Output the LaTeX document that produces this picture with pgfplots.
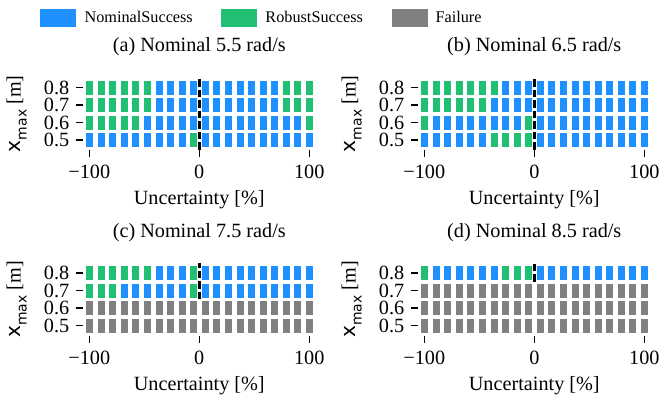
\documentclass[border=0pt]{standalone}
\usepackage{fontspec}
\setmainfont{Liberation Serif}
\newfontfamily\djv{DejaVu Sans}
\usepackage{pgfplots}
\pgfplotsset{compat=1.18}
\definecolor{nomblue}{RGB}{30,144,255}
\definecolor{robgreen}{RGB}{33,191,115}
\definecolor{failgray}{RGB}{128,128,128}
\newcommand{\lblfont}{\fontsize{20.3}{24}\selectfont}
\newcommand{\legfont}{\fontsize{16.3}{19.5}\selectfont}
\pgfdeclareplotmark{cell}{%
  \pgfpathrectangle{\pgfpoint{-3bp}{-6.5bp}}{\pgfpoint{6bp}{13bp}}%
  \pgfusepathqfillstroke}
\pgfplotsset{
  cellax/.style={
    scale only axis, width=233.2bp, height=72.5bp,
    xmin=-106, xmax=106, ymin=0.443, ymax=0.857,
    clip=false,
    axis line style={draw=none},
    /pgf/number format/assume math mode=true,
    xtick={-100,0,100}, xticklabels={−100,0,100},
    ytick={0.5,0.6,0.7,0.8}, yticklabels={0.5,0.6,0.7,0.8},
    tick align=outside, major tick length=7bp,
    xtick pos=left, ytick pos=left,
    tick style={black, line width=1.6bp},
    ticklabel style={font=\lblfont},
    xticklabel style={yshift=-5bp},
    yticklabel style={xshift=-3bp},
    title style={font=\lblfont, at={(0.5,1)}, anchor=base, yshift=20bp},
    xlabel={Uncertainty [\%]},
    xlabel style={font=\lblfont, at={(0.5,0)}, anchor=base, yshift=-55bp},
    ylabel={{\djv x\raisebox{-0.3em}{\fontsize{14}{14}\selectfont max}} [m]},
    ylabel style={font=\lblfont, at={(ticklabel cs:0.5,20bp)}, anchor=base},
  },
  cells/.style={
    scatter, only marks, forget plot,
    scatter src=explicit symbolic,
    line width=0.5bp,
    scatter/classes={
      N={mark=cell, nomblue},
      R={mark=cell, robgreen},
      F={mark=cell, failgray}
    }
  },
  zeroline/.style={black, line width=2.7bp, dash pattern=on 7.5bp off 3bp, forget plot},
}
\begin{document}
\begin{tikzpicture}
\useasboundingbox (0,0) rectangle (660bp,403bp);
% ---------------- (a)
\begin{axis}[cellax, at={(82.7bp,253bp)}, anchor=south west,
  title={(a) Nominal 5.5 rad/s},
  legend columns=3,
  legend style={at={(0.769,1.828)}, anchor=center, draw=none, fill=none, font=\legfont,
    /tikz/every odd column/.append style={column sep=6.6bp},
    /tikz/every even column/.append style={column sep=26.6bp}},
  legend cell align=left]
\addlegendimage{legend image code/.code={\fill[nomblue] (0bp,-8.5bp) rectangle (35bp,8.5bp);}}
\addlegendentry{NominalSuccess}
\addlegendimage{legend image code/.code={\fill[robgreen] (0bp,-8.5bp) rectangle (35bp,8.5bp);}}
\addlegendentry{RobustSuccess}
\addlegendimage{legend image code/.code={\fill[failgray] (0bp,-8.5bp) rectangle (35bp,8.5bp);}}
\addlegendentry{Failure}
\addplot[cells] coordinates {
(-100,0.8)[R] (-89.474,0.8)[R] (-78.947,0.8)[R] (-68.421,0.8)[R] (-57.895,0.8)[R] (-47.368,0.8)[R] (-36.842,0.8)[N] (-26.316,0.8)[N] (-15.789,0.8)[N] (-5.263,0.8)[N]
(5.263,0.8)[N] (15.789,0.8)[N] (26.316,0.8)[N] (36.842,0.8)[N] (47.368,0.8)[N] (57.895,0.8)[N] (68.421,0.8)[N] (78.947,0.8)[R] (89.474,0.8)[R] (100,0.8)[R]
(-100,0.7)[R] (-89.474,0.7)[R] (-78.947,0.7)[R] (-68.421,0.7)[R] (-57.895,0.7)[R] (-47.368,0.7)[R] (-36.842,0.7)[N] (-26.316,0.7)[N] (-15.789,0.7)[N] (-5.263,0.7)[N]
(5.263,0.7)[N] (15.789,0.7)[N] (26.316,0.7)[N] (36.842,0.7)[N] (47.368,0.7)[N] (57.895,0.7)[N] (68.421,0.7)[N] (78.947,0.7)[R] (89.474,0.7)[R] (100,0.7)[R]
(-100,0.6)[R] (-89.474,0.6)[R] (-78.947,0.6)[R] (-68.421,0.6)[R] (-57.895,0.6)[R] (-47.368,0.6)[N] (-36.842,0.6)[N] (-26.316,0.6)[N] (-15.789,0.6)[N] (-5.263,0.6)[N]
(5.263,0.6)[N] (15.789,0.6)[N] (26.316,0.6)[N] (36.842,0.6)[N] (47.368,0.6)[N] (57.895,0.6)[N] (68.421,0.6)[N] (78.947,0.6)[N] (89.474,0.6)[N] (100,0.6)[R]
(-100,0.5)[N] (-89.474,0.5)[N] (-78.947,0.5)[N] (-68.421,0.5)[N] (-57.895,0.5)[N] (-47.368,0.5)[N] (-36.842,0.5)[N] (-26.316,0.5)[N] (-15.789,0.5)[N] (-5.263,0.5)[R]
(5.263,0.5)[N] (15.789,0.5)[N] (26.316,0.5)[N] (36.842,0.5)[N] (47.368,0.5)[N] (57.895,0.5)[N] (68.421,0.5)[N] (78.947,0.5)[N] (89.474,0.5)[N] (100,0.5)[N]
};
\addplot[zeroline] coordinates {(0,0.445) (0,0.857)};
\end{axis}
% ---------------- (b)
\begin{axis}[cellax, at={(417.7bp,253bp)}, anchor=south west,
  title={(b) Nominal 6.5 rad/s}]
\addplot[cells] coordinates {
(-100,0.8)[R] (-89.474,0.8)[R] (-78.947,0.8)[R] (-68.421,0.8)[R] (-57.895,0.8)[R] (-47.368,0.8)[R] (-36.842,0.8)[R] (-26.316,0.8)[N] (-15.789,0.8)[N] (-5.263,0.8)[N]
(5.263,0.8)[N] (15.789,0.8)[N] (26.316,0.8)[N] (36.842,0.8)[N] (47.368,0.8)[N] (57.895,0.8)[N] (68.421,0.8)[N] (78.947,0.8)[N] (89.474,0.8)[N] (100,0.8)[N]
(-100,0.7)[R] (-89.474,0.7)[R] (-78.947,0.7)[R] (-68.421,0.7)[R] (-57.895,0.7)[R] (-47.368,0.7)[R] (-36.842,0.7)[N] (-26.316,0.7)[N] (-15.789,0.7)[N] (-5.263,0.7)[N]
(5.263,0.7)[N] (15.789,0.7)[N] (26.316,0.7)[N] (36.842,0.7)[N] (47.368,0.7)[N] (57.895,0.7)[N] (68.421,0.7)[N] (78.947,0.7)[N] (89.474,0.7)[N] (100,0.7)[N]
(-100,0.6)[R] (-89.474,0.6)[N] (-78.947,0.6)[N] (-68.421,0.6)[N] (-57.895,0.6)[N] (-47.368,0.6)[N] (-36.842,0.6)[N] (-26.316,0.6)[N] (-15.789,0.6)[N] (-5.263,0.6)[R]
(5.263,0.6)[N] (15.789,0.6)[N] (26.316,0.6)[N] (36.842,0.6)[N] (47.368,0.6)[N] (57.895,0.6)[N] (68.421,0.6)[N] (78.947,0.6)[N] (89.474,0.6)[N] (100,0.6)[N]
(-100,0.5)[N] (-89.474,0.5)[N] (-78.947,0.5)[N] (-68.421,0.5)[N] (-57.895,0.5)[N] (-47.368,0.5)[N] (-36.842,0.5)[R] (-26.316,0.5)[R] (-15.789,0.5)[R] (-5.263,0.5)[R]
(5.263,0.5)[N] (15.789,0.5)[N] (26.316,0.5)[N] (36.842,0.5)[N] (47.368,0.5)[N] (57.895,0.5)[N] (68.421,0.5)[N] (78.947,0.5)[N] (89.474,0.5)[N] (100,0.5)[N]
};
\addplot[zeroline] coordinates {(0,0.445) (0,0.857)};
\end{axis}
% ---------------- (c)
\begin{axis}[cellax, at={(82.7bp,67.5bp)}, anchor=south west,
  title={(c) Nominal 7.5 rad/s}]
\addplot[cells] coordinates {
(-100,0.8)[R] (-89.474,0.8)[R] (-78.947,0.8)[R] (-68.421,0.8)[R] (-57.895,0.8)[R] (-47.368,0.8)[R] (-36.842,0.8)[N] (-26.316,0.8)[N] (-15.789,0.8)[N] (-5.263,0.8)[R]
(5.263,0.8)[N] (15.789,0.8)[N] (26.316,0.8)[N] (36.842,0.8)[N] (47.368,0.8)[N] (57.895,0.8)[N] (68.421,0.8)[N] (78.947,0.8)[N] (89.474,0.8)[N] (100,0.8)[N]
(-100,0.7)[R] (-89.474,0.7)[R] (-78.947,0.7)[R] (-68.421,0.7)[N] (-57.895,0.7)[N] (-47.368,0.7)[N] (-36.842,0.7)[N] (-26.316,0.7)[N] (-15.789,0.7)[N] (-5.263,0.7)[R]
(5.263,0.7)[N] (15.789,0.7)[N] (26.316,0.7)[N] (36.842,0.7)[N] (47.368,0.7)[N] (57.895,0.7)[N] (68.421,0.7)[N] (78.947,0.7)[N] (89.474,0.7)[N] (100,0.7)[N]
(-100,0.6)[F] (-89.474,0.6)[F] (-78.947,0.6)[F] (-68.421,0.6)[F] (-57.895,0.6)[F] (-47.368,0.6)[F] (-36.842,0.6)[F] (-26.316,0.6)[F] (-15.789,0.6)[F] (-5.263,0.6)[F]
(5.263,0.6)[F] (15.789,0.6)[F] (26.316,0.6)[F] (36.842,0.6)[F] (47.368,0.6)[F] (57.895,0.6)[F] (68.421,0.6)[F] (78.947,0.6)[F] (89.474,0.6)[F] (100,0.6)[F]
(-100,0.5)[F] (-89.474,0.5)[F] (-78.947,0.5)[F] (-68.421,0.5)[F] (-57.895,0.5)[F] (-47.368,0.5)[F] (-36.842,0.5)[F] (-26.316,0.5)[F] (-15.789,0.5)[F] (-5.263,0.5)[F]
(5.263,0.5)[F] (15.789,0.5)[F] (26.316,0.5)[F] (36.842,0.5)[F] (47.368,0.5)[F] (57.895,0.5)[F] (68.421,0.5)[F] (78.947,0.5)[F] (89.474,0.5)[F] (100,0.5)[F]
};
\addplot[zeroline] coordinates {(0,0.65) (0,0.857)};
\end{axis}
% ---------------- (d)
\begin{axis}[cellax, at={(417.7bp,67.5bp)}, anchor=south west,
  title={(d) Nominal 8.5 rad/s}]
\addplot[cells] coordinates {
(-100,0.8)[R] (-89.474,0.8)[N] (-78.947,0.8)[N] (-68.421,0.8)[N] (-57.895,0.8)[N] (-47.368,0.8)[N] (-36.842,0.8)[N] (-26.316,0.8)[R] (-15.789,0.8)[R] (-5.263,0.8)[R]
(5.263,0.8)[N] (15.789,0.8)[N] (26.316,0.8)[N] (36.842,0.8)[N] (47.368,0.8)[N] (57.895,0.8)[N] (68.421,0.8)[N] (78.947,0.8)[N] (89.474,0.8)[N] (100,0.8)[N]
(-100,0.7)[F] (-89.474,0.7)[F] (-78.947,0.7)[F] (-68.421,0.7)[F] (-57.895,0.7)[F] (-47.368,0.7)[F] (-36.842,0.7)[F] (-26.316,0.7)[F] (-15.789,0.7)[F] (-5.263,0.7)[F]
(5.263,0.7)[F] (15.789,0.7)[F] (26.316,0.7)[F] (36.842,0.7)[F] (47.368,0.7)[F] (57.895,0.7)[F] (68.421,0.7)[F] (78.947,0.7)[F] (89.474,0.7)[F] (100,0.7)[F]
(-100,0.6)[F] (-89.474,0.6)[F] (-78.947,0.6)[F] (-68.421,0.6)[F] (-57.895,0.6)[F] (-47.368,0.6)[F] (-36.842,0.6)[F] (-26.316,0.6)[F] (-15.789,0.6)[F] (-5.263,0.6)[F]
(5.263,0.6)[F] (15.789,0.6)[F] (26.316,0.6)[F] (36.842,0.6)[F] (47.368,0.6)[F] (57.895,0.6)[F] (68.421,0.6)[F] (78.947,0.6)[F] (89.474,0.6)[F] (100,0.6)[F]
(-100,0.5)[F] (-89.474,0.5)[F] (-78.947,0.5)[F] (-68.421,0.5)[F] (-57.895,0.5)[F] (-47.368,0.5)[F] (-36.842,0.5)[F] (-26.316,0.5)[F] (-15.789,0.5)[F] (-5.263,0.5)[F]
(5.263,0.5)[F] (15.789,0.5)[F] (26.316,0.5)[F] (36.842,0.5)[F] (47.368,0.5)[F] (57.895,0.5)[F] (68.421,0.5)[F] (78.947,0.5)[F] (89.474,0.5)[F] (100,0.5)[F]
};
\addplot[zeroline] coordinates {(0,0.75) (0,0.857)};
\end{axis}
\end{tikzpicture}
\end{document}
